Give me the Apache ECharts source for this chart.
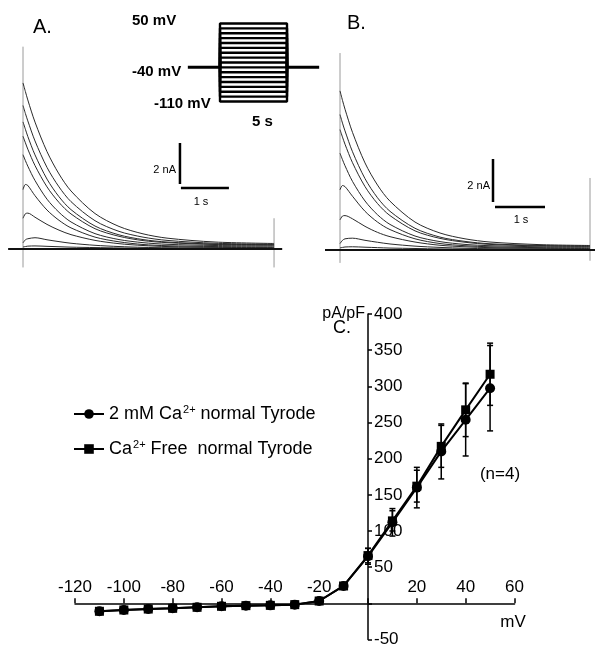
<!DOCTYPE html>
<html>
<head>
<meta charset="utf-8">
<script src="https://cdn.jsdelivr.net/npm/echarts@6/dist/echarts.min.js"></script>
<style>
html,body{margin:0;padding:0;background:#fff;}
#chart{width:595px;height:648px;}
</style>
</head>
<body>
<div id="chart"></div>
<script>
// ---------- Panel A: current traces (nA) vs time (s) ----------
var timeA = [0, 0.05, 0.1, 0.25, 0.5, 0.75, 1, 1.5, 2, 2.5, 3, 4, 5.23];
var traceA1 = [8.1, 7.68, 7.27, 6.19, 4.75, 3.66, 2.83, 1.73, 1.10, 0.74, 0.53, 0.34, 0.27];
var traceA2 = [7.0, 6.61, 6.25, 5.27, 3.98, 3.03, 2.31, 1.38, 0.86, 0.58, 0.42, 0.28, 0.23];
var traceA3 = [6.2, 5.84, 5.49, 4.59, 3.41, 2.55, 1.92, 1.12, 0.69, 0.46, 0.34, 0.24, 0.21];
var traceA4 = [5.5, 5.18, 4.87, 4.07, 3.03, 2.27, 1.71, 0.99, 0.62, 0.41, 0.31, 0.22, 0.19];
var traceA5 = [4.6, 4.31, 4.04, 3.34, 2.43, 1.79, 1.32, 0.75, 0.46, 0.31, 0.23, 0.17, 0.15];
var traceA6 = [2.9, 3.15, 3.1, 2.6, 1.9, 1.4, 1.03, 0.58, 0.35, 0.22, 0.16, 0.12, 0.10];
var traceA7 = [1.5, 1.72, 1.75, 1.55, 1.2, 0.92, 0.70, 0.42, 0.26, 0.17, 0.12, 0.08, 0.07];
var traceA8 = [0.3, 0.45, 0.5, 0.55, 0.45, 0.36, 0.28, 0.18, 0.12, 0.08, 0.06, 0.05, 0.04];
var traceA9 = [0.1, 0.12, 0.14, 0.15, 0.13, 0.11, 0.09, 0.07, 0.05, 0.04, 0.03, 0.03, 0.03];

// ---------- Panel B ----------
var timeB = [0, 0.05, 0.1, 0.25, 0.5, 0.75, 1, 1.5, 2, 2.5, 3, 4, 5];
var traceB1 = [7.4, 6.96, 6.55, 5.47, 4.05, 3.02, 2.27, 1.30, 0.79, 0.52, 0.37, 0.25, 0.21];
var traceB2 = [6.3, 5.90, 5.54, 4.57, 3.32, 2.43, 1.80, 1.01, 0.60, 0.40, 0.29, 0.21, 0.19];
var traceB3 = [5.6, 5.25, 4.92, 4.06, 2.95, 2.16, 1.60, 0.89, 0.54, 0.36, 0.26, 0.19, 0.17];
var traceB4 = [4.5, 4.20, 3.92, 3.19, 2.28, 1.64, 1.19, 0.65, 0.39, 0.26, 0.20, 0.15, 0.14];
var traceB5 = [2.8, 3.0, 2.95, 2.5, 1.8, 1.3, 0.95, 0.52, 0.3, 0.2, 0.15, 0.11, 0.1];
var traceB6 = [1.4, 1.58, 1.6, 1.45, 1.1, 0.82, 0.62, 0.37, 0.22, 0.15, 0.11, 0.08, 0.07];
var traceB7 = [0.3, 0.45, 0.52, 0.55, 0.45, 0.36, 0.28, 0.18, 0.12, 0.08, 0.06, 0.05, 0.04];
var traceB8 = [0.1, 0.12, 0.14, 0.15, 0.13, 0.11, 0.09, 0.07, 0.05, 0.04, 0.03, 0.03, 0.03];

// ---------- Voltage protocol ----------
var holdingMV = -40;
var stepMV = [-110, -100, -90, -80, -70, -60, -50, -40, -30, -20, -10, 0, 10, 20, 30, 40, 50];
var stepDuration = 5;

// ---------- Panel C: I-V relation ----------
var voltages = [-110, -100, -90, -80, -70, -60, -50, -40, -30, -20, -10, 0, 10, 20, 30, 40, 50];
var caNormal = [-11, -9.2, -7.9, -6.9, -5.5, -4.1, -3.2, -2.8, -1.8, 3.2, 24, 65, 112, 160, 210, 253.7, 297.4];
var caNormalErr = [1, 1, 1, 1, 1, 1, 1, 1, 1, 1, 3, 11, 19, 28, 38, 50, 59];
var caFree = [-11, -9.2, -7.9, -6.9, -5.5, -4.1, -3.2, -2.8, -1.8, 3.2, 24, 66, 114, 162, 217, 267.5, 316.7];
var caFreeErr = [1, 1, 1, 1, 1, 1, 1, 1, 1, 1, 3, 10, 14, 22, 29, 37, 43];
var xTicks = [-120, 60, 20];   // min, max, interval
var yTicks = [-50, 400, 50];

var nameCa = '2 mM Ca2+ normal Tyrode';
var nameFree = 'Ca2+ Free  normal Tyrode';

// ---------- build ----------
var FONT = 'Liberation Sans, Arial, sans-serif';
var series = [];

function pairs(t, v) { return t.map(function (x, i) { return [x, v[i]]; }); }
function traceSeries(t, v, gi) {
  return {type: 'line', xAxisIndex: gi, yAxisIndex: gi, data: pairs(t, v), smooth: 0.3,
    symbol: 'none', silent: true, lineStyle: {color: '#2a2a2a', width: 1}, z: 2};
}
function segSeries(gi, pts, color, width, z) {
  return {type: 'line', xAxisIndex: gi, yAxisIndex: gi, data: pts, symbol: 'none', silent: true,
    lineStyle: {color: color, width: width}, z: z || 3};
}

[traceA1, traceA2, traceA3, traceA4, traceA5, traceA6, traceA7, traceA8, traceA9].forEach(function (v) {
  series.push(traceSeries(timeA, v, 0));
});
[traceB1, traceB2, traceB3, traceB4, traceB5, traceB6, traceB7, traceB8].forEach(function (v) {
  series.push(traceSeries(timeB, v, 1));
});
// baselines, artifacts, scale bars (panel A)
series.push(segSeries(0, [[-0.31, 0], [5.4, 0]], '#111', 2));
series.push(segSeries(0, [[0, -0.9], [0, 9.87]], '#9a9a9a', 1, 1));
series.push(segSeries(0, [[5.23, -0.9], [5.23, 1.5]], '#9a9a9a', 1, 1));
series.push(segSeries(0, [[3.27, 3.17], [3.27, 5.17]], '#000', 2.5));
series.push(segSeries(0, [[3.29, 2.98], [4.29, 2.98]], '#000', 2.5));
// panel B
series.push(segSeries(1, [[-0.3, 0], [5.1, 0]], '#111', 2));
series.push(segSeries(1, [[0, -0.6], [0, 9.16]], '#9a9a9a', 1, 1));
series.push(segSeries(1, [[5.0, -0.5], [5.0, 3.35]], '#9a9a9a', 1, 1));
series.push(segSeries(1, [[3.06, 2.23], [3.06, 4.23]], '#000', 2.5));
series.push(segSeries(1, [[3.1, 2.0], [4.1, 2.0]], '#000', 2.5));
// protocol
stepMV.forEach(function (v) {
  series.push(segSeries(2, [[0, holdingMV], [0, v], [stepDuration, v], [stepDuration, holdingMV]], '#000', 2.4));
});
series.push(segSeries(2, [[-2.4, holdingMV], [0, holdingMV]], '#000', 3));
series.push(segSeries(2, [[stepDuration, holdingMV], [stepDuration + 2.4, holdingMV]], '#000', 3));

// error bars
function errData(vals, errs) {
  return voltages.map(function (x, i) { return [x, vals[i] - errs[i], vals[i] + errs[i]]; });
}
function errSeries(vals, errs) {
  return {
    type: 'custom', xAxisIndex: 3, yAxisIndex: 3, silent: true, z: 4,
    data: errData(vals, errs), encode: {x: 0, y: [1, 2]},
    renderItem: function (params, api) {
      var x = api.value(0), lo = api.value(1), hi = api.value(2);
      var p1 = api.coord([x, hi]), p2 = api.coord([x, lo]);
      var hw = 3, st = {stroke: '#000', lineWidth: 1.5};
      return {type: 'group', children: [
        {type: 'line', shape: {x1: p1[0], y1: p1[1], x2: p2[0], y2: p2[1]}, style: st},
        {type: 'line', shape: {x1: p1[0] - hw, y1: p1[1], x2: p1[0] + hw, y2: p1[1]}, style: st},
        {type: 'line', shape: {x1: p2[0] - hw, y1: p2[1], x2: p2[0] + hw, y2: p2[1]}, style: st}
      ]};
    }
  };
}
series.push(errSeries(caNormal, caNormalErr));
series.push(errSeries(caFree, caFreeErr));

series.push({type: 'line', name: nameFree, xAxisIndex: 3, yAxisIndex: 3, data: pairs(voltages, caFree),
  symbol: 'rect', symbolSize: 9, itemStyle: {color: '#000'}, lineStyle: {color: '#000', width: 2}, z: 5});
series.push({type: 'line', name: nameCa, xAxisIndex: 3, yAxisIndex: 3, data: pairs(voltages, caNormal),
  symbol: 'circle', symbolSize: 10, itemStyle: {color: '#000'}, lineStyle: {color: '#000', width: 2}, z: 6});

function hiddenAxis(gi, min, max) { return {type: 'value', gridIndex: gi, min: min, max: max, show: false}; }

// grid for panel C
var gC = {left: 75, top: 314, width: 439.5, height: 326};
var zeroYpx = gC.top + gC.height * (yTicks[1] - 0) / (yTicks[1] - yTicks[0]);
var zeroXpx = gC.left + gC.width * (0 - xTicks[0]) / (xTicks[1] - xTicks[0]);

var option = {
  animation: false,
  backgroundColor: '#fff',
  grid: [
    {left: 8.6, top: 44, width: 273.6, height: 225.5},
    {left: 325, top: 35, width: 270, height: 236.5},
    {left: 186.5, top: 18.6, width: 134, height: 87.75},
    gC
  ],
  xAxis: [
    hiddenAxis(0, -0.3, 5.4),
    hiddenAxis(1, -0.3, 5.1),
    hiddenAxis(2, -2.5, 7.5),
    {type: 'value', gridIndex: 3, min: xTicks[0], max: xTicks[1], interval: xTicks[2], position: 'bottom',
      offset: -(gC.top + gC.height - zeroYpx),
      axisLine: {onZero: false, lineStyle: {color: '#000', width: 1.5}},
      axisTick: {inside: true, length: 5, lineStyle: {color: '#000', width: 1.5}},
      axisLabel: {inside: true, margin: 7, color: '#000', fontSize: 17, fontFamily: FONT,
        formatter: function (v) { return v === 0 ? '' : String(v); }},
      splitLine: {show: false}}
  ],
  yAxis: [
    hiddenAxis(0, -1, 10),
    hiddenAxis(1, -1, 10),
    hiddenAxis(2, -120, 60),
    {type: 'value', gridIndex: 3, min: yTicks[0], max: yTicks[1], interval: yTicks[2], position: 'left',
      offset: -(zeroXpx - gC.left),
      axisLine: {onZero: false, lineStyle: {color: '#000', width: 1.5}},
      axisTick: {inside: true, length: 4, lineStyle: {color: '#000', width: 1.5}},
      axisLabel: {inside: true, margin: 6, color: '#000', fontSize: 17, fontFamily: FONT,
        formatter: function (v) { return v === 0 ? '' : String(v); }},
      splitLine: {show: false}}
  ],
  legend: {
    data: [nameCa, nameFree], orient: 'vertical', left: 73, top: 404, padding: 0,
    itemWidth: 30, itemHeight: 12, itemGap: 15,
    textStyle: {color: '#000', fontSize: 18, fontFamily: FONT, lineHeight: 20,
      rich: {sup: {fontSize: 11, fontFamily: FONT, color: '#000', verticalAlign: 'top', lineHeight: 12, padding: [0, 0, 0, 1]}}},
    formatter: function (n) {
      return n === nameCa ? '2 mM Ca{sup|2+} normal Tyrode' : 'Ca{sup|2+} Free  normal Tyrode';
    },
    selectedMode: false
  },
  graphic: [
    {type: 'text', x: 33, y: 27, style: {text: 'A.', font: '20px ' + FONT, fill: '#000', textVerticalAlign: 'middle'}},
    {type: 'text', x: 347, y: 23, style: {text: 'B.', font: '20px ' + FONT, fill: '#000', textVerticalAlign: 'middle'}},
    {type: 'text', x: 132, y: 21, style: {text: '50 mV', font: 'bold 15px ' + FONT, fill: '#000', textVerticalAlign: 'middle'}},
    {type: 'text', x: 132, y: 72, style: {text: '-40 mV', font: 'bold 15px ' + FONT, fill: '#000', textVerticalAlign: 'middle'}},
    {type: 'text', x: 154, y: 104, style: {text: '-110 mV', font: 'bold 15px ' + FONT, fill: '#000', textVerticalAlign: 'middle'}},
    {type: 'text', x: 252, y: 122, style: {text: '5 s', font: 'bold 15px ' + FONT, fill: '#000', textVerticalAlign: 'middle'}},
    {type: 'text', x: 176, y: 170, style: {text: '2 nA', font: '11px ' + FONT, fill: '#000', textAlign: 'right', textVerticalAlign: 'middle'}},
    {type: 'text', x: 201, y: 202, style: {text: '1 s', font: '11px ' + FONT, fill: '#000', textAlign: 'center', textVerticalAlign: 'middle'}},
    {type: 'text', x: 490, y: 186, style: {text: '2 nA', font: '11px ' + FONT, fill: '#000', textAlign: 'right', textVerticalAlign: 'middle'}},
    {type: 'text', x: 521, y: 220, style: {text: '1 s', font: '11px ' + FONT, fill: '#000', textAlign: 'center', textVerticalAlign: 'middle'}},
    {type: 'text', x: 365, y: 314, style: {text: 'pA/pF', font: '16px ' + FONT, fill: '#000', textAlign: 'right', textVerticalAlign: 'middle'}},
    {type: 'text', x: 333, y: 328, style: {text: 'C.', font: '18px ' + FONT, fill: '#000', textVerticalAlign: 'middle'}},
    {type: 'text', x: 500, y: 474, style: {text: '(n=4)', font: '17px ' + FONT, fill: '#000', textAlign: 'center', textVerticalAlign: 'middle'}},
    {type: 'text', x: 513, y: 622, style: {text: 'mV', font: '17px ' + FONT, fill: '#000', textAlign: 'center', textVerticalAlign: 'middle'}}
  ],
  series: series
};

var chart = echarts.init(document.getElementById('chart'), null, {renderer: 'canvas'});
chart.setOption(option);
</script>
</body>
</html>
